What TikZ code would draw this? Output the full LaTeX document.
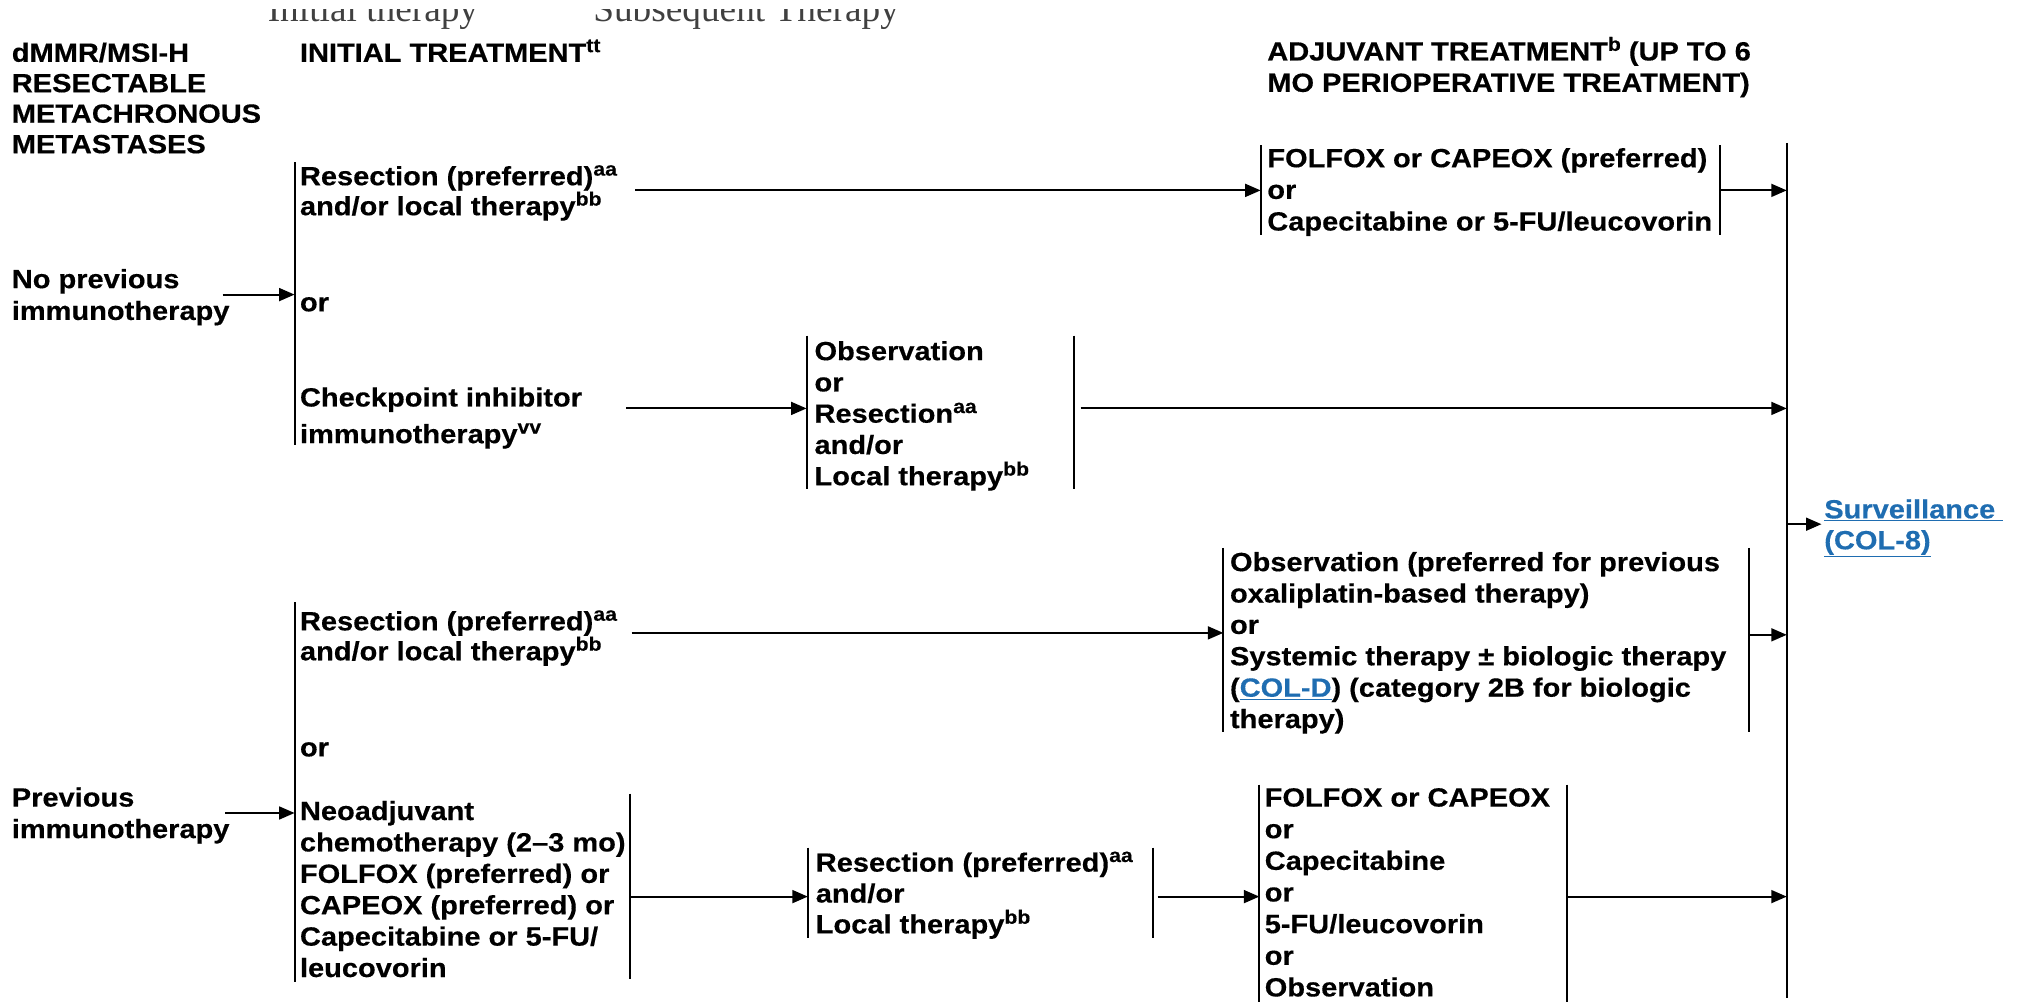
\documentclass[tikz,border=0pt]{standalone}
\usepackage{fontspec}
\usetikzlibrary{arrows.meta}
\newfontfamily\labelfont{Liberation Sans}[FakeStretch=1.1,Ligatures=TeX,FakeBold=0.4]
\newfontfamily\notefont{Liberation Serif}
\definecolor{linkblue}{HTML}{1F6DB1}
% raised footnote letters
\newcommand\supx[1]{\raisebox{7.5pt}{\fontsize{15}{15}\selectfont #1}}
% left-aligned stack of lines; first baseline is the box baseline
\newcommand\stack[2]{\vtop{\baselineskip=#1\lineskiplimit=-100pt\lineskip=0pt\halign{##\hfil\cr#2\crcr}}}
\newcommand\lnk[1]{\textcolor{linkblue}{\underline{#1}}}

\begin{document}
\begin{tikzpicture}[x=1pt,y=-1pt,
  txt/.style={inner sep=0pt, anchor=base west,
    font=\labelfont\bfseries\fontsize{20.5}{24.4}\selectfont},
  note/.style={inner sep=0pt, anchor=base west, text=black!75,
    font=\notefont\fontsize{29}{29}\selectfont},
  bar/.style={line width=1.5pt},
  flow/.style={line width=1.6pt, -{Triangle[length=12pt,width=10pt]}}]
\useasboundingbox (0,0) rectangle (1568,780);
\clip (0,0) rectangle (1568,780);

% column captions, only their lower part shows
\begin{scope}
  \clip (0,7) rectangle (1568,40);
  \node[note] (capA) at (208,16.5) {Initial therapy};
  \node[note] (capB) at (461,16.5) {Subsequent Therapy};
\end{scope}

\node[txt] (hdrL) at (9,48) {\stack{23.7pt}{dMMR/MSI-H\cr RESECTABLE\cr METACHRONOUS\cr METASTASES}};
\node[txt] (hdrI) at (233,48) {INITIAL TREATMENT\supx{tt}};
\node[txt] (hdrA) at (985,47) {\stack{24.4pt}{ADJUVANT TREATMENT\supx{b} (UP TO 6\cr MO PERIOPERATIVE TREATMENT)}};

% entry conditions
\node[txt] (nopre) at (9,224) {\stack{24.7pt}{No previous\cr immunotherapy}};
\node[txt] (pre) at (9,627) {\stack{24.5pt}{Previous\cr immunotherapy}};

% initial treatment options
\node[txt] (res1) at (233,144) {\stack{23.3pt}{Resection (preferred)\supx{aa}\cr and/or local therapy\supx{bb}}};
\node[txt] (or1) at (233,242) {or};
\node[txt] (chk) at (233,316) {\stack{28.5pt}{Checkpoint inhibitor\cr immunotherapy\supx{vv}}};
\node[txt] (res2) at (233,490) {\stack{23.3pt}{Resection (preferred)\supx{aa}\cr and/or local therapy\supx{bb}}};
\node[txt] (or2) at (233,588) {or};
\node[txt] (neo) at (233,637.5) {\stack{24.4pt}{Neoadjuvant\cr chemotherapy (2\textendash3 mo)\cr FOLFOX (preferred) or\cr CAPEOX (preferred) or\cr Capecitabine or 5-FU/\cr leucovorin}};

% second step
\node[txt] (obs) at (633,280) {\stack{24.3pt}{Observation\cr or\cr Resection\supx{aa}\cr and/or\cr Local therapy\supx{bb}}};
\node[txt] (res3) at (634,677.6) {\stack{24pt}{Resection (preferred)\supx{aa}\cr and/or\cr Local therapy\supx{bb}}};

% adjuvant treatment
\node[txt] (adj1) at (985,130) {\stack{24.6pt}{FOLFOX or CAPEOX (preferred)\cr or\cr Capecitabine or 5-FU/leucovorin}};
\node[txt] (adj2) at (956,444) {\stack{24.4pt}{Observation (preferred for previous\cr oxaliplatin-based therapy)\cr or\cr Systemic therapy \textpm\ biologic therapy\cr (\lnk{COL-D}) (category 2B for biologic\cr therapy)}};
\node[txt] (adj3) at (983,627) {\stack{24.6pt}{FOLFOX or CAPEOX\cr or\cr Capecitabine\cr or\cr 5-FU/leucovorin\cr or\cr Observation}};

\node[txt, text=linkblue] (surv) at (1418,403) {\stack{24pt}{\underline{Surveillance\ }\cr \underline{(COL-8)}}};

% bracket lines
\coordinate (iniAt) at (229,126);  \coordinate (iniAb) at (229,346);
\coordinate (iniBt) at (229,468);  \coordinate (iniBb) at (229,763);
\coordinate (neoRt) at (490,617);  \coordinate (neoRb) at (490,761);
\coordinate (obsLt) at (627,261);  \coordinate (obsLb) at (627,380);
\coordinate (obsRt) at (835,261);  \coordinate (obsRb) at (835,380);
\coordinate (rs3Lt) at (628,659);  \coordinate (rs3Lb) at (628,729);
\coordinate (rs3Rt) at (896,659);  \coordinate (rs3Rb) at (896,729);
\coordinate (ad1Lt) at (980,113);  \coordinate (ad1Lb) at (980,183);
\coordinate (ad1Rt) at (1337,113); \coordinate (ad1Rb) at (1337,183);
\coordinate (ad2Lt) at (951,426);  \coordinate (ad2Lb) at (951,569);
\coordinate (ad2Rt) at (1360,426); \coordinate (ad2Rb) at (1360,569);
\coordinate (ad3Lt) at (979,610);  \coordinate (ad3Lb) at (979,779);
\coordinate (ad3Rt) at (1218,610); \coordinate (ad3Rb) at (1218,779);
\coordinate (bigT) at (1389,111);  \coordinate (bigB) at (1389,776);

\foreach \a/\b in {iniAt/iniAb, iniBt/iniBb, neoRt/neoRb, obsLt/obsLb, obsRt/obsRb,
  rs3Lt/rs3Lb, rs3Rt/rs3Rb, ad1Lt/ad1Lb, ad1Rt/ad1Rb, ad2Lt/ad2Lb, ad2Rt/ad2Rb,
  ad3Lt/ad3Lb, ad3Rt/ad3Rb, bigT/bigB}
  \draw[bar] (\a) -- (\b);

% connector start points
\coordinate (nopreOut) at (173,229);
\coordinate (preOut) at (175,632);
\coordinate (res1Out) at (494,148);
\coordinate (chkOut) at (487,317.5);
\coordinate (obsOut) at (840,317.5);
\coordinate (survIn) at (1416,407.5);
\coordinate (res2Out) at (491,492);
\coordinate (ad2Out) at (1360,493.5);
\coordinate (neoOut) at (490,697);
\coordinate (rs3Out) at (900,697);

% connectors
\draw[flow] (nopreOut) -- (iniAt |- nopreOut);
\draw[flow] (preOut) -- (iniBt |- preOut);
\draw[flow] (res1Out) -- (ad1Lt |- res1Out);
\draw[flow] (ad1Rt |- res1Out) -- (bigT |- res1Out);
\draw[flow] (chkOut) -- (obsLt |- chkOut);
\draw[flow] (obsOut) -- (bigT |- obsOut);
\draw[flow] (bigT |- survIn) -- (survIn);
\draw[flow] (res2Out) -- (ad2Lt |- res2Out);
\draw[flow] (ad2Out) -- (bigT |- ad2Out);
\draw[flow] (neoOut) -- (rs3Lt |- neoOut);
\draw[flow] (rs3Out) -- (ad3Lt |- rs3Out);
\draw[flow] (ad3Rt |- rs3Out) -- (bigT |- rs3Out);
\end{tikzpicture}
\end{document}
